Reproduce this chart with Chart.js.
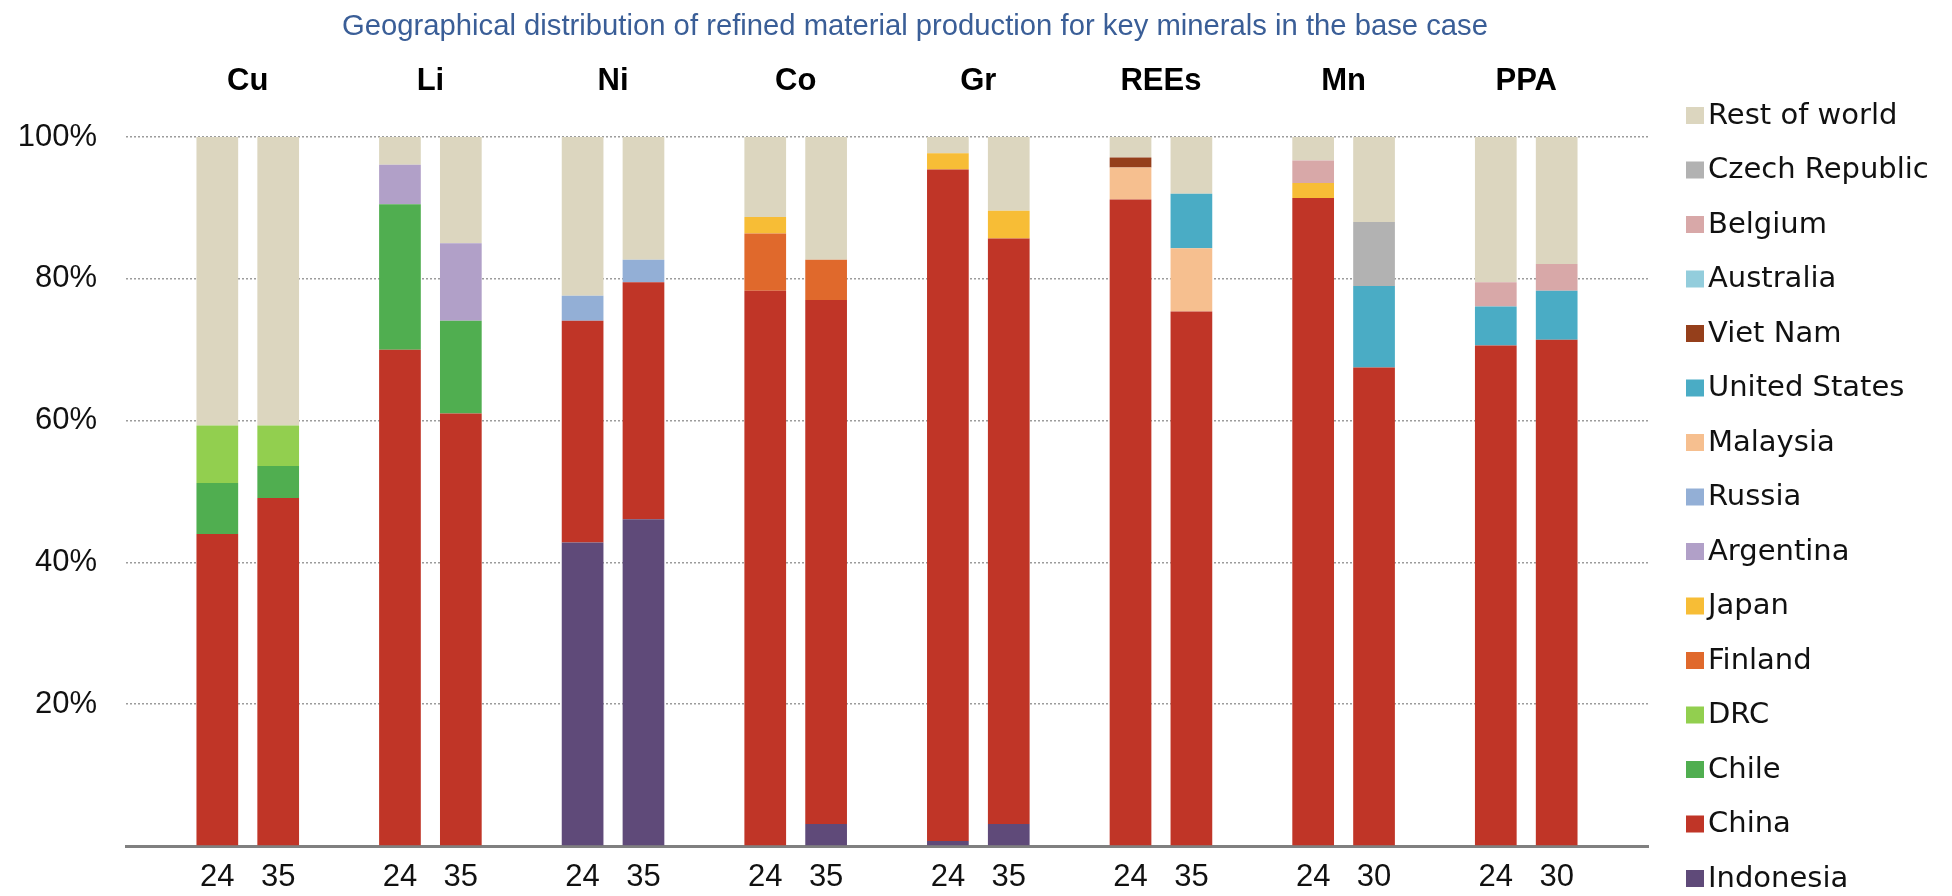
<!DOCTYPE html>
<html>
<head>
<meta charset="utf-8">
<script src="https://cdn.jsdelivr.net/npm/chart.js@4.4.1/dist/chart.umd.min.js"></script>
<style>
  html, body { margin: 0; padding: 0; background: #fff; }
  #wrap { width: 1952px; height: 896px; position: relative; }
</style>
</head>
<body>
<div id="wrap"><canvas id="mineralsChart"></canvas></div>
<script>
var titleText = 'Geographical distribution of refined material production for key minerals in the base case';
var minerals = ['Cu', 'Li', 'Ni', 'Co', 'Gr', 'REEs', 'Mn', 'PPA'];
var years = ['24', '35', '24', '35', '24', '35', '24', '35', '24', '35', '24', '35', '24', '30', '24', '30'];
var yTickLabels = ['', '20%', '40%', '60%', '80%', '100%'];

// share of refined output (%), one value per bar: Cu24, Cu35, Li24, Li35 ... PPA24, PPA30
var indonesia    = [0, 0, 0, 0, 42.8, 46.1, 0, 3.1, 0.7, 3.1, 0, 0, 0, 0, 0, 0];
var china        = [44.0, 49.1, 70.0, 61.0, 31.3, 33.4, 78.3, 73.9, 94.7, 82.6, 91.2, 75.4, 91.4, 67.5, 70.6, 71.4];
var chile        = [7.2, 4.5, 20.5, 13.1, 0, 0, 0, 0, 0, 0, 0, 0, 0, 0, 0, 0];
var drc          = [8.1, 5.7, 0, 0, 0, 0, 0, 0, 0, 0, 0, 0, 0, 0, 0, 0];
var finland      = [0, 0, 0, 0, 0, 0, 8.1, 5.7, 0, 0, 0, 0, 0, 0, 0, 0];
var japan        = [0, 0, 0, 0, 0, 0, 2.3, 0, 2.3, 3.9, 0, 0, 2.1, 0, 0, 0];
var argentina    = [0, 0, 5.6, 10.9, 0, 0, 0, 0, 0, 0, 0, 0, 0, 0, 0, 0];
var russia       = [0, 0, 0, 0, 3.5, 3.2, 0, 0, 0, 0, 0, 0, 0, 0, 0, 0];
var malaysia     = [0, 0, 0, 0, 0, 0, 0, 0, 0, 0, 4.5, 8.9, 0, 0, 0, 0];
var unitedStates = [0, 0, 0, 0, 0, 0, 0, 0, 0, 0, 0, 7.7, 0, 11.5, 5.5, 6.9];
var vietNam      = [0, 0, 0, 0, 0, 0, 0, 0, 0, 0, 1.4, 0, 0, 0, 0, 0];
var australia    = [0, 0, 0, 0, 0, 0, 0, 0, 0, 0, 0, 0, 0, 0, 0, 0];
var belgium      = [0, 0, 0, 0, 0, 0, 0, 0, 0, 0, 0, 0, 3.2, 0, 3.4, 3.8];
var czechRep     = [0, 0, 0, 0, 0, 0, 0, 0, 0, 0, 0, 0, 0, 9.0, 0, 0];
var restOfWorld  = [40.7, 40.7, 3.9, 15.0, 22.4, 17.3, 11.3, 17.3, 2.3, 10.4, 2.9, 8.0, 3.3, 12.0, 20.5, 17.9];

// bottom of the stack first
var series = [
  ['Indonesia', indonesia, '#5f4a79'],
  ['China', china, '#c03527'],
  ['Chile', chile, '#50ae50'],
  ['DRC', drc, '#92cf4f'],
  ['Finland', finland, '#e0692c'],
  ['Japan', japan, '#f7bd36'],
  ['Argentina', argentina, '#b1a0c8'],
  ['Russia', russia, '#93afd6'],
  ['Malaysia', malaysia, '#f6bf8f'],
  ['United States', unitedStates, '#4aacc5'],
  ['Viet Nam', vietNam, '#953f1b'],
  ['Australia', australia, '#93cddc'],
  ['Belgium', belgium, '#d8a8a8'],
  ['Czech Republic', czechRep, '#b2b2b2'],
  ['Rest of world', restOfWorld, '#dcd6bf']
];

// x slots: gap, 24, 35, gap, 24, 35 ... , gap
var xLabels = [''];
minerals.forEach(function(m, i) {
  xLabels.push(years[2 * i], years[2 * i + 1], '');
});
function slotOf(bar) { return 1 + Math.floor(bar / 2) * 3 + (bar % 2); }

var datasets = series.map(function(s) {
  var data = xLabels.map(function() { return null; });
  s[1].forEach(function(v, b) { if (v) data[slotOf(b)] = v; });
  return {
    label: s[0],
    data: data,
    backgroundColor: s[2],
    borderWidth: 0,
    categoryPercentage: 1,
    barPercentage: 0.685
  };
});

// title, mineral headers and the legend column
var annotations = {
  id: 'annotations',
  afterDraw: function(chart) {
    var ctx = chart.ctx, x = chart.scales.x;
    ctx.save();
    ctx.textAlign = 'center';
    ctx.textBaseline = 'alphabetic';
    // title is set in a condensed face in the original
    ctx.font = "30px 'Liberation Sans Narrow', 'Liberation Sans', Arial, sans-serif";
    ctx.fillStyle = '#3a5e97';
    var sx = Math.min(1, 1146 / ctx.measureText(titleText).width);
    ctx.save();
    ctx.translate(915, 35);
    ctx.scale(sx, 1);
    ctx.fillText(titleText, 0, 0);
    ctx.restore();

    ctx.font = "bold 31px 'Liberation Sans', Arial, sans-serif";
    ctx.fillStyle = '#000';
    minerals.forEach(function(m, i) {
      var cx = (x.getPixelForValue(3 * i + 1) + x.getPixelForValue(3 * i + 2)) / 2;
      ctx.fillText(m, cx, 90);
    });

    ctx.textAlign = 'left';
    ctx.textBaseline = 'middle';
    ctx.font = "29px 'DejaVu Sans', sans-serif";
    for (var k = series.length - 1, row = 0; k >= 0; k--, row++) {
      var y = 107 + row * 54.5;
      ctx.fillStyle = series[k][2];
      ctx.fillRect(1686, y, 18, 17);
      ctx.fillStyle = '#111';
      ctx.fillText(series[k][0], 1708, y + 9);
    }
    ctx.restore();
  }
};

var ctx = document.getElementById('mineralsChart').getContext('2d');
var chart = new Chart(ctx, {
  type: 'bar',
  data: { labels: xLabels, datasets: datasets },
  plugins: [annotations],
  options: {
    responsive: true,
    maintainAspectRatio: false,
    animation: false,
    layout: { padding: { top: 137, right: 304, bottom: 0, left: 0 } },
    plugins: {
      legend: { display: false },
      title: { display: false },
      tooltip: { enabled: false }
    },
    scales: {
      x: {
        stacked: true,
        grid: { display: false },
        border: { display: true, color: '#808080', width: 3 },
        ticks: {
          autoSkip: false,
          maxRotation: 0,
          padding: 5,
          color: '#111',
          font: { family: "'Liberation Sans', Arial, sans-serif", size: 31 }
        },
        afterFit: function(scale) { scale.height = 50; }
      },
      y: {
        stacked: true,
        min: 0,
        max: 100,
        grid: {
          drawTicks: false,
          lineWidth: 1.5,
          color: function(c) { return c.tick && c.tick.value === 0 ? 'rgba(0,0,0,0)' : '#9c9c9c'; }
        },
        border: { display: false, dash: [2, 2] },
        ticks: {
          stepSize: 20,
          padding: 29,
          color: '#111',
          font: { family: "'Liberation Sans', Arial, sans-serif", size: 31 },
          callback: function(v, i) { return yTickLabels[i]; }
        },
        afterFit: function(scale) { scale.width = 126; }
      }
    }
  }
});
</script>
</body>
</html>
